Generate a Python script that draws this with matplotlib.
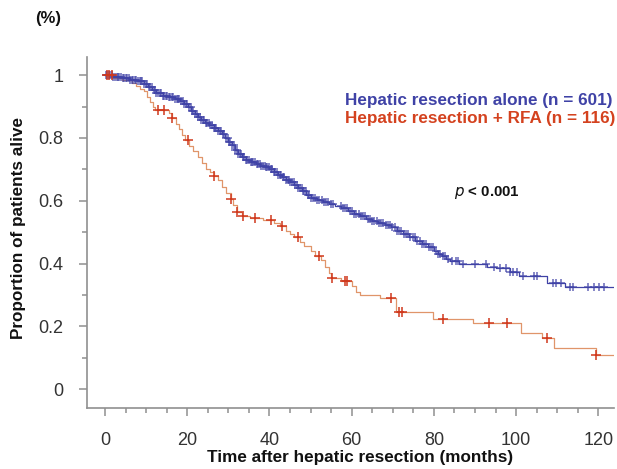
import matplotlib.pyplot as plt
import numpy as np
from matplotlib.ticker import MultipleLocator

plt.rcParams['font.family'] = ['Liberation Sans', 'DejaVu Sans']

# Kaplan-Meier steps: drop time (months) and survival after it
alone_t = [0, 2, 4, 6, 8, 9.5, 10.5, 11.5, 12.5, 14, 15.5, 17, 18.2, 19.2, 20.2,
           21, 21.8, 22.6, 23.4, 24.4, 25.4, 26.4, 27.4, 28.4, 29.2, 30, 30.8,
           31.6, 32.4, 33.2, 34.2, 35.4, 36.6, 37.8, 39, 40, 41, 42, 43, 44, 45,
           46, 47, 48, 49, 50, 51.5, 53, 54.5, 56, 57.5, 59, 60.5, 62, 63.5, 65,
           66.5, 68, 69.5, 71, 72.5, 74, 75.5, 77, 78.5, 80, 81, 82, 83, 84, 86,
           92.8, 95.2, 98.4, 100.8, 107.6, 112]
alone_s = [1.0, 0.995, 0.99, 0.985, 0.98, 0.972, 0.962, 0.952, 0.943, 0.935,
           0.93, 0.924, 0.918, 0.908, 0.897, 0.887, 0.877, 0.867, 0.857, 0.848,
           0.84, 0.832, 0.823, 0.812, 0.80, 0.788, 0.776, 0.762, 0.75, 0.74,
           0.731, 0.724, 0.718, 0.712, 0.706, 0.70, 0.69, 0.682, 0.675, 0.667,
           0.66, 0.65, 0.64, 0.63, 0.619, 0.609, 0.603, 0.596, 0.59, 0.584,
           0.576, 0.566, 0.558, 0.55, 0.543, 0.536, 0.529, 0.522, 0.515, 0.505,
           0.494, 0.483, 0.472, 0.462, 0.452, 0.441, 0.432, 0.423, 0.415, 0.408,
           0.40, 0.39, 0.385, 0.372, 0.36, 0.338, 0.325]

rfa_t = [0, 2, 4, 6.5, 7.5, 8.5, 9.5, 10.3, 11, 11.7, 12.2, 15.5, 16.3, 17.2, 18,
         18.8, 19.5, 20.5, 21.3, 22.5, 23.5, 24.5, 25.5, 26.5, 27.5, 28.5, 29.5,
         30.6, 31.2, 32, 33.3, 35.2, 38.5, 41, 42.5, 44, 45, 46, 47.5, 48.5, 50,
         51, 52.5, 53.5, 54.5, 55, 57.5, 60, 61, 62, 66.8, 70.9, 79.7, 89.4,
         101.3, 106.4, 109.3, 119.5]
rfa_s = [1.0, 0.991, 0.983, 0.974, 0.965, 0.957, 0.948, 0.931, 0.914, 0.897,
         0.888, 0.879, 0.862, 0.845, 0.827, 0.81, 0.792, 0.774, 0.757, 0.74,
         0.72, 0.70, 0.69, 0.68, 0.665, 0.645, 0.625, 0.605, 0.585, 0.565, 0.55,
         0.545, 0.538, 0.528, 0.52, 0.505, 0.495, 0.485, 0.47, 0.455, 0.44,
         0.425, 0.41, 0.39, 0.37, 0.355, 0.345, 0.33, 0.31, 0.30, 0.29, 0.245,
         0.225, 0.21, 0.18, 0.162, 0.13, 0.108]

alone_cens = [0.2, 0.5, 0.9, 1.3, 1.6, 2.0, 2.4, 2.8, 3.1, 3.5, 3.9, 4.3, 4.6,
              5.0, 5.4, 5.8, 6.1, 6.5, 6.9, 7.3, 7.6, 8.0, 8.4, 8.8, 9.1, 9.5,
              9.9, 10.3, 10.6, 11.0, 11.4, 11.8, 12.1, 12.5, 12.9, 13.3, 13.6,
              14.0, 14.4, 14.8, 15.1, 15.5, 15.9, 16.3, 16.6, 17.0, 17.4, 17.8,
              18.1, 18.5, 18.9, 19.3, 19.6, 20.0, 20.4, 20.8, 21.1, 21.5, 21.9,
              22.3, 22.6, 23.0, 23.4, 23.8, 24.1, 24.5, 24.9, 25.3, 25.6, 26.0,
              26.4, 26.8, 27.1, 27.5, 27.9, 28.3, 28.6, 29.0, 29.4, 29.8, 30.1,
              30.5, 30.9, 31.3, 31.6, 32.0, 32.4, 32.8, 33.1, 33.5, 33.9, 34.3,
              34.6, 35.0, 35.4, 35.8, 36.1, 36.5, 36.9, 37.3, 37.6, 38.0, 38.4,
              38.8, 39.1, 39.5, 39.9, 40.3, 40.6, 41.0, 41.4, 41.8, 42.1, 42.5,
              42.9, 43.3, 43.6, 44.0, 44.4, 44.8, 45.1, 45.5, 45.9, 46.3, 46.6,
              47.0, 47.4, 47.8, 48.1, 48.5, 48.9, 49.3, 49.6, 50.0, 50.5, 51.0,
              51.6, 52.1, 52.7, 53.2, 53.8, 54.3, 54.9, 55.4, 57.3, 57.8, 58.4,
              58.9, 59.5, 60.0, 60.6, 61.1, 61.7, 62.2, 62.8, 63.3, 63.9, 64.4,
              65.0, 65.5, 66.1, 66.6, 67.2, 67.7, 68.3, 68.8, 69.4, 69.9, 70.5,
              71.0, 71.6, 72.1, 72.7, 73.2, 73.8, 74.3, 74.9, 75.4, 76.0, 76.5,
              77.1, 77.6, 78.2, 78.7, 79.3, 79.8, 80.4, 81.0, 81.6, 82.2, 82.8,
              83.4, 84.5, 85.3, 85.9, 87.0, 89.9, 92.6, 94.6, 96.1, 97.6, 98.4,
              99.3, 100.1, 101.6, 104.4, 105.2, 108.9, 109.8, 111.0, 113.0, 113.8,
              117.6, 118.9, 120.1, 121.3]
rfa_cens = [0.4, 1.0, 1.6, 12.8, 14.3, 16.3, 20.2, 26.5, 30.6, 32.1, 33.5, 36.4,
            40.3, 43.0, 46.9, 52.0, 55.1, 58.3, 58.8, 69.5, 71.6, 72.2, 82.3,
            93.3, 97.9, 107.4, 119.5]

t_end = 124

BLUE = '#3f42a6'
RED_LINE = '#e0956a'
RED_MARK = '#d0381c'


def surv_at(times, st, ss):
    idx = np.searchsorted(st, times, side='right') - 1
    return np.asarray(ss)[idx]


fig = plt.figure(figsize=(6.17, 4.69), dpi=100)
ax = fig.add_axes([0.141, 0.130, 0.854, 0.748])

ax.step(alone_t + [t_end], alone_s + [alone_s[-1]], where='post', color=BLUE, lw=0.9)
ax.step(rfa_t + [t_end], rfa_s + [rfa_s[-1]], where='post', color=RED_LINE, lw=0.9)
ax.plot(alone_cens, surv_at(alone_cens, alone_t, alone_s), '+', color=BLUE,
        ms=6, mew=1.1, alpha=0.8)
ax.plot(rfa_cens, surv_at(rfa_cens, rfa_t, rfa_s), '+', color=RED_MARK,
        ms=7, mew=1.1)

ax.set_xlim(-4.4, 123.8)
ax.set_ylim(-0.06, 1.057)
ax.xaxis.set_major_locator(MultipleLocator(20))
ax.xaxis.set_minor_locator(MultipleLocator(5))
ax.yaxis.set_major_locator(MultipleLocator(0.2))
ax.yaxis.set_minor_locator(MultipleLocator(0.1))
ax.set_yticks([0, 0.2, 0.4, 0.6, 0.8, 1.0], ['0', '0.2', '0.4', '0.6', '0.8', '1'])

for s in ['top', 'right']:
    ax.spines[s].set_visible(False)
for s in ['left', 'bottom']:
    ax.spines[s].set_color('#909090')
    ax.spines[s].set_linewidth(1.2)
ax.tick_params(which='major', length=6, width=1.1, color='#909090',
               labelsize=13, labelcolor='#333333', pad=11)
ax.tick_params(which='minor', length=3.5, width=1.1, color='#909090')

ax.text(58.3, 0.92, 'Hepatic resection alone (n = 601)', color=BLUE,
        fontsize=12.3, fontweight='bold', ha='left', va='center')
ax.text(58.3, 0.863, 'Hepatic resection + RFA (n = 116)', color='#d4421f',
        fontsize=12.3, fontweight='bold', ha='left', va='center')
ax.text(85, 0.627, r'$\bf{\it{p}}$ < 0.001', color='#111111',
        fontsize=10.8, fontweight='bold', ha='left', va='center')

fig.text(35 / 617, 1 - 19 / 469, '(%)', fontsize=12, fontweight='bold',
         ha='left', va='center', color='#111111')
fig.text(360 / 617, 1 - 457 / 469, 'Time after hepatic resection (months)',
         fontsize=12.3, fontweight='bold', ha='center', va='center', color='#111111')
fig.text(19 / 617, 1 - 228 / 469, 'Proportion of patients alive', rotation=90,
         fontsize=12.3, fontweight='bold', ha='center', va='center', color='#111111')

fig.savefig('out.png', dpi=100, facecolor='white')
